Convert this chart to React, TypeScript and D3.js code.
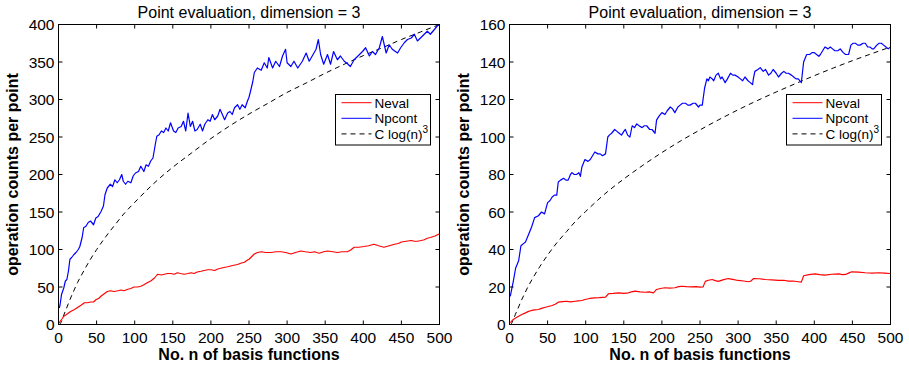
import React from "react";
import * as d3 from "d3";

type P = [number, number];

const xTicks = [0, 50, 100, 150, 200, 250, 300, 350, 400, 450, 500];
const leftYTicks = [0, 50, 100, 150, 200, 250, 300, 350, 400];
const rightYTicks = [0, 20, 40, 60, 80, 100, 120, 140, 160];
const legendLabels = ["Neval", "Npcont", "C log(n)"];
const titleText = "Point evaluation, dimension = 3";
const xLabel = "No. n of basis functions";
const yLabel = "operation counts per point";

const leftNpcont: P[] = [[1,22],[2,26],[4,40],[7,49],[9,58],[11,60],[13,71],[15,87],[17,89],[20,93],[23,96],[26,100],[28,104],[31,116],[33,129],[36,131],[39,136],[42,138],[46,133],[49,142],[52,144],[56,151],[59,158],[61,173],[64,182],[68,187],[71,184],[74,193],[77,189],[80,193],[83,200],[85,191],[88,187],[91,191],[95,189],[98,198],[101,202],[105,204],[108,211],[112,204],[115,213],[118,211],[121,218],[124,222],[127,240],[129,251],[132,253],[135,258],[138,256],[141,262],[144,258],[147,269],[151,258],[154,256],[157,262],[161,264],[164,271],[167,258],[170,282],[173,264],[176,271],[179,258],[182,260],[186,267],[189,258],[192,267],[196,273],[199,271],[202,280],[205,273],[209,278],[212,287],[215,280],[218,273],[222,282],[225,284],[228,280],[231,289],[235,293],[238,287],[241,293],[245,289],[248,298],[250,303],[252,311],[255,324],[257,336],[261,342],[266,339],[270,349],[274,342],[276,356],[281,342],[285,351],[290,344],[294,358],[298,367],[300,349],[305,344],[309,351],[314,342],[320,351],[325,362],[329,351],[333,358],[338,367],[341,380],[344,360],[348,347],[353,360],[357,347],[361,364],[366,353],[370,358],[375,351],[379,348],[383,344],[388,353],[395,360],[399,364],[403,369],[408,358],[412,364],[416,360],[421,369],[425,384],[430,362],[434,373],[438,367],[445,362],[449,369],[454,376],[458,380],[463,382],[467,387],[471,378],[475,382],[480,387],[484,391],[488,387],[493,393],[497,398],[500,400]];

const leftNeval: P[] = [[1,2],[2,4],[5,8],[7,11],[10,13],[14,16],[17,18],[21,20],[24,22],[27,24],[30,26],[34,29],[38,29],[42,30],[46,30],[49,33],[53,35],[56,38],[60,41],[64,44],[68,45],[73,44],[78,45],[82,46],[86,45],[91,47],[95,48],[99,50],[104,50],[108,51],[112,53],[117,56],[121,58],[126,62],[130,67],[135,66],[139,67],[143,68],[147,68],[152,67],[156,69],[160,68],[165,67],[170,68],[174,69],[178,68],[182,70],[187,71],[191,72],[196,73],[200,73],[205,72],[209,74],[213,75],[217,76],[222,77],[226,78],[230,79],[235,80],[240,82],[244,83],[248,86],[250,87],[254,91],[257,94],[261,96],[266,97],[272,96],[279,96],[285,97],[292,97],[298,96],[305,94],[311,96],[318,98],[324,97],[331,96],[336,97],[342,95],[348,97],[353,98],[360,97],[366,96],[372,97],[379,97],[383,99],[388,103],[394,103],[401,104],[407,105],[414,107],[420,105],[427,103],[434,105],[441,107],[446,108],[450,110],[456,111],[463,112],[467,111],[471,111],[476,112],[480,113],[484,115],[488,116],[494,118],[500,121]];

const leftLogCurve: P[] = [[1,0],[2,0.55],[3,2.2],[5,7],[7.5,14],[10,20.3],[15,33.1],[20,44.8],[25,56],[30,65.6],[40,83.7],[50,99.8],[62,117],[75,134],[87,149],[100,162.8],[125,188],[150,209.7],[175,229],[200,247.9],[225,265],[250,280.6],[275,295],[300,309.4],[325,322],[350,335],[375,347],[400,358.5],[425,369],[450,380],[475,390],[500,400]];

const rightNpcont: P[] = [[1,15],[2,17],[5,23],[8,30],[12,34],[15,42],[18,43],[21,44],[25,48],[29,52],[33,57],[38,58],[42,60],[46,59],[50,65],[53,66],[56,68],[59,69],[62,69],[64,76],[67,77],[71,78],[74,77],[77,77],[80,80],[82,81],[85,80],[88,80],[91,81],[93,79],[95,84],[97,86],[99,88],[103,87],[106,88],[109,90],[112,92],[116,91],[119,91],[122,90],[126,91],[129,100],[131,101],[134,102],[138,104],[141,103],[144,102],[147,101],[150,103],[152,104],[155,101],[158,100],[161,106],[164,105],[167,107],[170,106],[174,105],[177,106],[180,106],[184,104],[187,104],[191,102],[193,109],[196,111],[200,113],[204,112],[207,114],[211,116],[214,115],[217,113],[221,116],[224,117],[227,118],[231,118],[234,117],[237,117],[241,118],[244,118],[248,116],[250,117],[253,117],[256,126],[259,131],[261,130],[263,132],[266,131],[268,130],[271,133],[274,134],[277,131],[279,132],[283,129],[286,131],[290,134],[293,133],[296,133],[300,132],[303,131],[306,130],[309,132],[313,130],[316,129],[319,128],[320,131],[322,135],[326,136],[329,137],[333,135],[336,136],[340,133],[343,134],[346,136],[350,134],[353,132],[357,134],[360,135],[363,134],[366,134],[370,133],[373,132],[376,131],[379,131],[383,129],[386,140],[388,142],[390,144],[394,144],[397,145],[400,145],[403,144],[406,143],[408,144],[411,146],[414,148],[418,147],[421,148],[424,147],[427,146],[431,146],[434,147],[438,145],[441,144],[445,144],[448,149],[451,150],[454,150],[457,149],[460,149],[464,150],[467,150],[470,148],[473,148],[476,147],[478,147],[482,149],[485,150],[488,150],[491,149],[494,148],[497,147],[500,148]];

const rightNeval: P[] = [[1,1],[5,2.7],[8,3.5],[12,4.4],[16,5.3],[21,6.2],[25,7],[29,7.5],[33,7.8],[38,8],[42,8.6],[47,9.2],[51,9.6],[56,10.1],[60,10.8],[64,11.9],[70,12.2],[75,12.4],[80,12.1],[86,12.4],[90,12.6],[95,12.8],[99,13.3],[105,13.9],[112,14.2],[118,14.3],[126,14.6],[130,16.4],[136,16.6],[143,16.9],[150,16.6],[156,16.9],[160,17.4],[165,17.8],[171,17.4],[178,17.2],[183,17.4],[189,16.9],[193,18.7],[198,19.2],[204,19.6],[210,19.4],[217,19.6],[222,20.2],[226,20.4],[232,20.2],[239,20.1],[245,20.2],[250,19.9],[254,20],[257,23],[261,23.6],[266,24],[270,23.4],[274,23],[280,23.8],[287,24.5],[293,24.1],[300,23.5],[307,23.2],[314,22.8],[317,23.2],[320,24.5],[328,24.4],[336,24],[344,23.8],[353,23.5],[360,23.6],[366,23.1],[372,23.2],[379,22.8],[383,22.6],[386,26],[393,26.6],[401,27],[407,26.6],[414,26.3],[423,26.8],[432,27],[437,26.6],[441,26.7],[445,27.4],[449,28.1],[458,27.9],[467,27.6],[476,27.4],[485,27.6],[492,27.4],[500,27.2]];

const rightLogCurve: P[] = [[1,0],[2,0.2],[3,0.82],[5,2.6],[7.5,5.2],[10,7.5],[15,12.3],[20,16.6],[25,20.7],[30,24.3],[40,31],[50,37],[62,43.5],[75,49.6],[87,55.2],[100,60.3],[125,69.6],[150,77.6],[175,84.9],[200,91.7],[225,98],[250,103.8],[275,109.3],[300,114.5],[325,119.4],[350,124],[375,128.4],[400,132.7],[425,136.8],[450,140.7],[475,144.4],[500,148]];

const FONT = "Arial, 'Liberation Sans', Helvetica, sans-serif";
const RED = "#ff0000";
const BLUE = "#0000ff";

interface PanelProps {
  left: number;
  yMax: number;
  yTicks: number[];
  neval: P[];
  npcont: P[];
  logc: P[];
}

function Panel({ left, yMax, yTicks, neval, npcont, logc }: PanelProps) {
  const top = 24.5;
  const bottom = 324.5;
  const right = left + 381;
  const x = d3.scaleLinear().domain([0, 500]).range([left, right]);
  const y = d3.scaleLinear().domain([0, yMax]).range([bottom, top]);
  const line = d3.line<P>().x((d) => x(d[0])).y((d) => y(d[1]));
  const smooth = d3
    .line<P>()
    .x((d) => x(d[0]))
    .y((d) => y(d[1]))
    .curve(d3.curveMonotoneX);
  const tickLen = 4;
  const cx = (left + right) / 2;
  const cy = (top + bottom) / 2;
  const legX = right - 104;
  const legY = 94.5;
  const rows = [
    { label: legendLabels[0], color: RED, dash: undefined as string | undefined },
    { label: legendLabels[1], color: BLUE, dash: undefined },
    { label: legendLabels[2], color: "#000", dash: "5,4" },
  ];
  return (
    <g>
      <text x={cx} y={18} textAnchor="middle" fontSize={16} fontFamily={FONT} fill="#000">
        {titleText}
      </text>
      <path d={smooth(logc) || ""} fill="none" stroke="#000" strokeWidth={1} strokeDasharray="5,4" />
      <path d={line(neval) || ""} fill="none" stroke={RED} strokeWidth={1.15} strokeLinejoin="round" />
      <path d={line(npcont) || ""} fill="none" stroke={BLUE} strokeWidth={1.2} strokeLinejoin="round" />
      <rect x={left} y={top} width={right - left} height={bottom - top} fill="none" stroke="#000" strokeWidth={1} />
      {xTicks.map((t) => (
        <g key={"x" + t}>
          <line x1={x(t)} x2={x(t)} y1={bottom} y2={bottom - tickLen} stroke="#000" strokeWidth={1} />
          <line x1={x(t)} x2={x(t)} y1={top} y2={top + tickLen} stroke="#000" strokeWidth={1} />
          <text x={x(t)} y={343} textAnchor="middle" fontSize={15.5} fontFamily={FONT} fill="#000">
            {t}
          </text>
        </g>
      ))}
      {yTicks.map((t) => (
        <g key={"y" + t}>
          <line x1={left} x2={left + tickLen} y1={y(t)} y2={y(t)} stroke="#000" strokeWidth={1} />
          <line x1={right} x2={right - tickLen} y1={y(t)} y2={y(t)} stroke="#000" strokeWidth={1} />
          <text x={left - 4} y={y(t)} dy="0.36em" textAnchor="end" fontSize={15.5} fontFamily={FONT} fill="#000">
            {t}
          </text>
        </g>
      ))}
      <text x={cx} y={360} textAnchor="middle" fontSize={16} fontWeight="bold" fontFamily={FONT} fill="#000">
        {xLabel}
      </text>
      <text
        transform={`translate(${left - 41},${cy}) rotate(-90)`}
        textAnchor="middle"
        fontSize={16}
        fontWeight="bold"
        fontFamily={FONT}
        fill="#000"
      >
        {yLabel}
      </text>
      <g>
        <rect x={legX} y={legY} width={95} height={50.5} fill="#fff" stroke="#000" strokeWidth={1} />
        {rows.map((r, i) => {
          const ry = 102.7 + i * 15.6;
          return (
            <g key={r.label}>
              <line x1={legX + 6} x2={legX + 36} y1={ry} y2={ry} stroke={r.color} strokeWidth={1} strokeDasharray={r.dash} />
              <text x={legX + 39} y={ry + 4.8} fontSize={13.5} fontFamily={FONT} fill="#000">
                {r.label}
                {i === 2 ? (
                  <tspan dy={-6} fontSize={10}>
                    3
                  </tspan>
                ) : null}
              </text>
            </g>
          );
        })}
      </g>
    </g>
  );
}

export default function App() {
  return (
    <svg
      width={909}
      height={366}
      viewBox="0 0 909 366"
      style={{ position: "absolute", left: 0, top: 0, background: "#fff" }}
    >
      <rect x={0} y={0} width={909} height={366} fill="#fff" />
      <Panel left={58.5} yMax={400} yTicks={leftYTicks} neval={leftNeval} npcont={leftNpcont} logc={leftLogCurve} />
      <Panel left={509.5} yMax={160} yTicks={rightYTicks} neval={rightNeval} npcont={rightNpcont} logc={rightLogCurve} />
    </svg>
  );
}
